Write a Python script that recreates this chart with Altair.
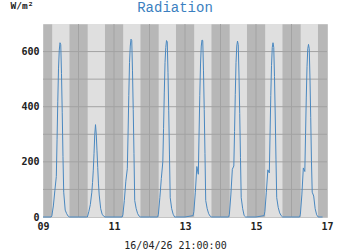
import altair as alt
import pandas as pd

# ---- data -------------------------------------------------------------
days = [9, 10, 11, 12, 13, 14, 15, 16]
hours = [0, 5.5, 6, 7, 8, 9, 9.5, 10, 10.5, 11, 11.5, 12, 12.5, 13, 13.5, 14, 15, 16, 17, 18, 24]
last_hours = [0, 5.5, 6, 7, 8, 9, 9.5, 10, 10.5, 11, 11.5, 12, 12.5, 13, 13.5, 14, 15, 16, 17, 18, 21]

rad_09 = [0, 0, 5, 40, 95, 147, 280, 420, 540, 605, 632, 625, 520, 380, 220, 90, 25, 12, 3, 0, 0]
rad_10 = [0, 0, 0, 20, 45, 90, 125, 170, 230, 300, 335, 300, 240, 180, 120, 80, 30, 10, 3, 0, 0]
rad_11 = [0, 0, 8, 60, 130, 175, 300, 440, 560, 620, 645, 640, 530, 390, 230, 60, 30, 12, 3, 0, 0]
rad_12 = [0, 0, 10, 70, 140, 200, 320, 450, 560, 615, 640, 635, 525, 385, 225, 70, 30, 10, 0, 0, 0]
rad_13 = [0, 5, 20, 90, 183, 155, 300, 440, 555, 620, 642, 640, 530, 390, 230, 60, 30, 12, 3, 0, 0]
rad_14 = [0, 0, 10, 80, 173, 185, 310, 445, 560, 620, 638, 625, 515, 375, 215, 70, 30, 5, 0, 0, 0]
rad_15 = [0, 5, 20, 90, 171, 160, 300, 440, 550, 615, 632, 615, 510, 370, 210, 70, 35, 15, 5, 0, 0]
rad_16 = [0, 0, 10, 80, 178, 165, 300, 435, 545, 610, 626, 610, 500, 360, 200, 90, 76, 30, 8, 0, 0]
all_rad = [rad_09, rad_10, rad_11, rad_12, rad_13, rad_14, rad_15, rad_16]

sunrise_h = 6.2
sunset_h = 17.9
x_ticks = [9, 11, 13, 15, 17]
y_ticks = [0, 200, 400, 600]
y_grid = [100, 200, 300, 400, 500, 600]
x_grid = [10, 11, 12, 13, 14, 15, 16]

# ---- tables -------------------------------------------------------------
rows = []
for i, (d, vals) in enumerate(zip(days, all_rad)):
    hs = last_hours if i == len(days) - 1 else hours
    for h, v in zip(hs, vals):
        rows.append({"x": d + h / 24.0, "r": v})
line_df = pd.DataFrame(rows)

band_df = pd.DataFrame({
    "x0": [d + sunrise_h / 24.0 for d in days],
    "x1": [d + sunset_h / 24.0 for d in days],
})
hgrid_df = pd.DataFrame({"v": y_grid})
vgrid_df = pd.DataFrame({"v": x_grid})

W, H = 284, 193
FONT = "DejaVu Sans Mono"

xscale = alt.Scale(domain=[9, 17], nice=False, zero=False)
yscale = alt.Scale(domain=[0, 700], nice=False)

x_axis = alt.Axis(
    values=x_ticks,
    labelExpr="format(datum.value, '02d')",
    ticks=False, grid=False, domain=False,
    labelFont=FONT, labelFontSize=10, labelFontWeight="bold",
    labelColor="#222222", labelPadding=4, labelFlush=False,
    labelOverlap=False,
    title="16/04/26 21:00:00",
    titleFont=FONT, titleFontSize=10, titleFontWeight="normal",
    titleColor="#222222", titleX=132, titleY=31,
    titleAlign="center", titleBaseline="alphabetic",
)
y_axis = alt.Axis(
    values=y_ticks,
    ticks=False, grid=False, domain=False,
    labelFont=FONT, labelFontSize=10, labelFontWeight="bold",
    labelColor="#222222", labelPadding=4,
    title="W/m²",
    titleFont=FONT, titleFontSize=9.5, titleFontWeight="bold",
    titleColor="#222222", titleAngle=0, titleX=-33, titleY=-15.5,
    titleAlign="left", titleBaseline="alphabetic",
)

bands = alt.Chart(band_df).mark_rect(color="#dfdfdf").encode(
    x=alt.X("x0:Q", scale=xscale, axis=x_axis),
    x2="x1:Q",
    y=alt.value(0),
    y2=alt.value(H),
)

hgrid = alt.Chart(hgrid_df).mark_rule(color="#a3a3a3", strokeWidth=1).encode(
    y=alt.Y("v:Q", scale=yscale, axis=y_axis)
)
vgrid = alt.Chart(vgrid_df).mark_rule(color="#a3a3a3", strokeWidth=1).encode(
    x=alt.X("v:Q", scale=xscale, axis=x_axis)
)

line = alt.Chart(line_df).mark_line(color="#4a88c0", strokeWidth=1).encode(
    x=alt.X("x:Q", scale=xscale, axis=x_axis),
    y=alt.Y("r:Q", scale=yscale, axis=y_axis),
)

chart = (
    alt.layer(bands, vgrid, hgrid, line)
    .properties(
        width=W,
        height=H,
        autosize=alt.AutoSizeParams(type="none"),
        padding={"left": 43, "top": 24, "right": 23, "bottom": 33},
        title=alt.TitleParams(
            "Radiation",
            font="Liberation Mono", fontSize=14, fontWeight="normal", color="#3b7fc0",
            anchor="middle", dx=-10, offset=-25.5, baseline="alphabetic",
        ),
        background="white",
    )
    .configure_view(fill="#b7b7b7", stroke="#c4c4c4")
)

chart.save("out.html", embed_options={"renderer": "svg", "actions": False})
